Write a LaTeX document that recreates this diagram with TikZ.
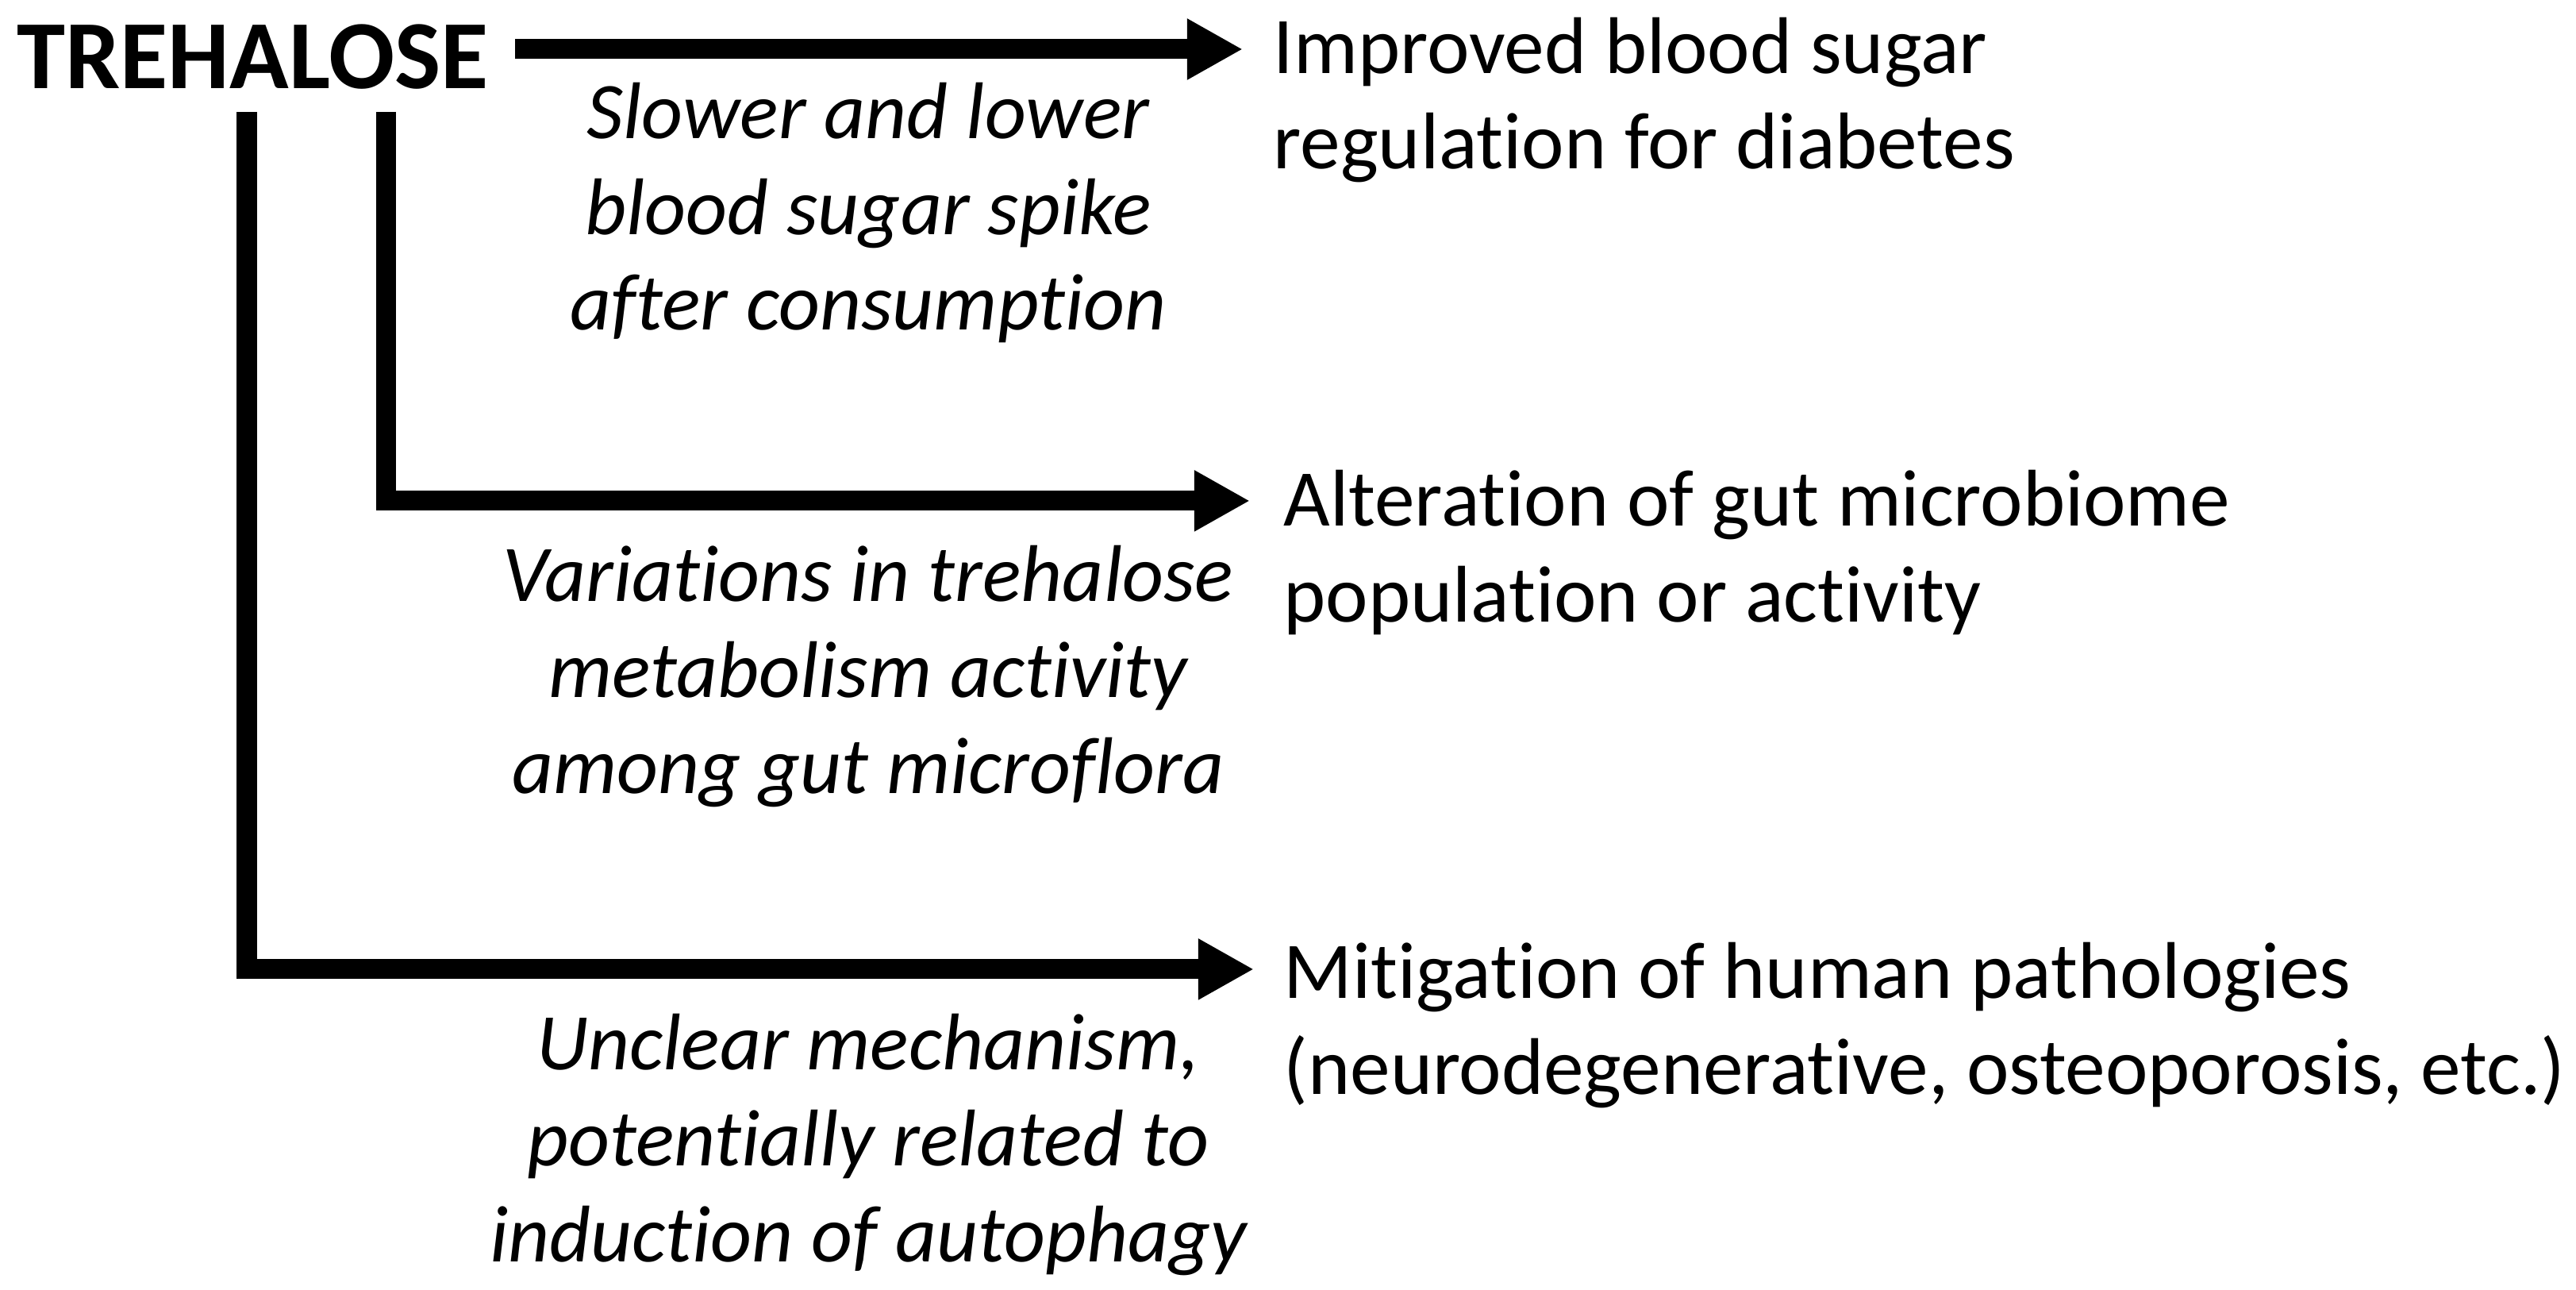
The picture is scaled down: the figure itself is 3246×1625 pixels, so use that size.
\documentclass[tikz,border=0pt]{standalone}
\usepackage{fontspec}
\setmainfont[Ligatures=NoCommon]{Carlito}
\usetikzlibrary{arrows.meta}

\begin{document}
\begin{tikzpicture}[x=0.01cm, y=-0.01cm,
    outcome/.style={anchor=base west, inner sep=0pt, align=left, font=\fontsize{28.8}{34.4}\selectfont},
    reason/.style={anchor=base, inner sep=0pt, align=center, font=\fontsize{28.8}{34.4}\selectfont\itshape},
    flow/.style={line width=0.25cm, -{Triangle[length=0.7cm, width=0.72cm]}}]
    \useasboundingbox (0,0) rectangle (3246,1625);

    \node[anchor=base west, inner sep=0pt, font=\fontsize{35}{42}\selectfont\bfseries] (trehalose) at (21,112) {TREHALOSE};

    \node[outcome] (out1) at (1604,213) {Improved blood sugar\\regulation for diabetes};
    \node[outcome] (out2) at (1617,783) {Alteration of gut microbiome\\population or activity};
    \node[outcome] (out3) at (1617,1378) {Mitigation of human pathologies\\(neurodegenerative, osteoporosis, etc.)};

    \node[reason] (why1) at (1094,416) {Slower and lower\\blood sugar spike\\after consumption};
    \node[reason] (why2) at (1094,999) {Variations in trehalose\\metabolism activity\\among gut microflora};
    \node[reason] (why3) at (1094,1589) {Unclear mechanism,\\potentially related to\\induction of autophagy};

    \coordinate (t1) at (649,62);
    \coordinate (t2) at (486,141);
    \coordinate (t3) at (311,141);
    \draw[flow] (t1) -- ([xshift=-0.38cm]t1 -| out1.west);
    \draw[flow] (t2) |- ([shift={(-0.42cm,1.52cm)}]out2.base west);
    \draw[flow] (t3) |- ([shift={(-0.37cm,1.57cm)}]out3.base west);

\end{tikzpicture}
\end{document}
